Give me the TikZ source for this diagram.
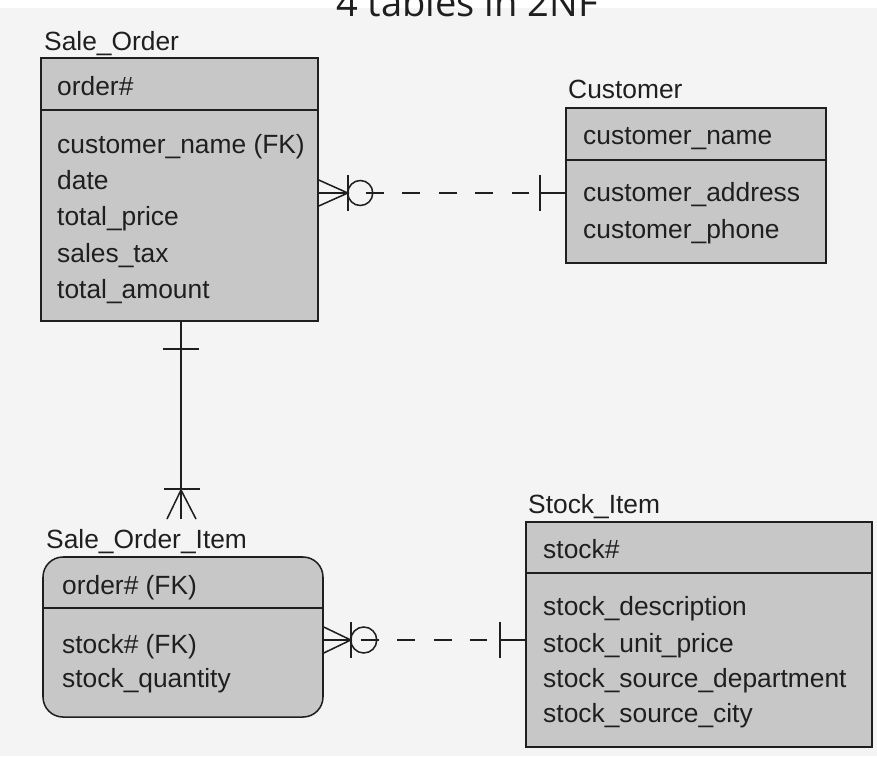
\documentclass[tikz,border=0pt]{standalone}
\usepackage{fontspec}
\setmainfont{Liberation Sans}
\newfontfamily\titlefont{Open Sans}
\usetikzlibrary{fit,calc}

\definecolor{boxgray}{gray}{0.78}
\definecolor{paper}{gray}{0.955}
\definecolor{ink}{gray}{0.12}

\tikzset{
  entity/.style={draw=ink, line width=1.3pt, fill=boxgray, inner sep=0pt},
  attr/.style={anchor=base west, inner sep=0pt, text=ink,
    font=\fontsize{22.5}{27}\selectfont},
  link/.style={draw=ink, line width=1.3pt},
  optline/.style={link, dash pattern=on 15.4pt off 15.8pt},
}

\begin{document}
\begin{tikzpicture}[x=0.03cm, y=-0.03cm]
  \useasboundingbox (0,0) rectangle (877,756);
  \clip (0,0) rectangle (877,756);
  \fill[paper] (0,0) rectangle (877,756);
  \fill[white] (0,0) rectangle (877,8);

  \node[anchor=base, inner sep=0pt, text=ink,
    font=\titlefont\fontsize{32.5}{38}\selectfont] (title) at (467,16) {4 tables in 2NF};

  % Sale_Order
  \node[attr] (so-name) at (44,50) {Sale\_Order};
  \node[entity, fit={(41,58) (318,321)}] (so) {};
  \draw[link] (so.west |- 0,110) -- (so.east |- 0,110);
  \node[attr] (so-key) at (57,95) {order\#};
  \foreach \txt/\yy [count=\i] in {customer\_name (FK)/153, date/189,
      total\_price/225, sales\_tax/262, total\_amount/298}
    \node[attr] (so-a\i) at (57,\yy) {\txt};

  % Customer
  \node[attr] (cu-name) at (568,98) {Customer};
  \node[entity, fit={(566,108) (826,263)}] (cu) {};
  \draw[link] (cu.west |- 0,160) -- (cu.east |- 0,160);
  \node[attr] (cu-key) at (583,144) {customer\_name};
  \foreach \txt/\yy [count=\i] in {customer\_address/201, customer\_phone/238}
    \node[attr] (cu-a\i) at (583,\yy) {\txt};

  % Sale_Order_Item
  \node[attr] (soi-name) at (46,548) {Sale\_Order\_Item};
  \node[entity, rounded corners=0.6cm, fit={(43,557) (323,717)}] (soi) {};
  \draw[link] (soi.west |- 0,608) -- (soi.east |- 0,608);
  \node[attr] (soi-key) at (62,594) {order\# (FK)};
  \foreach \txt/\yy [count=\i] in {stock\# (FK)/653, stock\_quantity/687}
    \node[attr] (soi-a\i) at (62,\yy) {\txt};

  % Stock_Item
  \node[attr] (st-name) at (528,513) {Stock\_Item};
  \node[entity, fit={(526,522) (872,747)}] (st) {};
  \draw[link] (st.west |- 0,573) -- (st.east |- 0,573);
  \node[attr] (st-key) at (543,558) {stock\#};
  \foreach \txt/\yy [count=\i] in {stock\_description/615, stock\_unit\_price/652,
      stock\_source\_department/687, stock\_source\_city/722}
    \node[attr] (st-a\i) at (543,\yy) {\txt};

  % Sale_Order >O- - -|- Customer
  \coordinate (c1a) at (so.east |- 0,193);
  \coordinate (c1b) at (cu.west |- 0,193);
  \draw[link] (c1a) -- ++(29,0) ++(-29,-13) -- ++(29,13) -- ++(-29,13);
  \draw[link] (c1a) ++(29,-18) -- ++(0,36);
  \draw[link] (c1a) ++(41.5,0) circle (0.375cm);
  \draw[optline] ($(c1a)+(47,0)$) -- ($(c1b)+(-36,0)$);
  \draw[link] (c1b) ++(-25,-18) -- ++(0,36);
  \draw[link] (c1b) ++(-25,0) -- (c1b);

  % Sale_Order -|- - - -< Sale_Order_Item
  \coordinate (c3a) at (so.south -| 181,0);
  \coordinate (c3b) at (181,519);
  \draw[link] (c3a) -- (c3b);
  \draw[link] (c3a) ++(-18,27) -- ++(36,0);
  \draw[link] (c3b) ++(-17,-30) -- ++(36,0);
  \draw[link] (c3b) ++(-14,0) -- ++(14,-29) -- ++(15,29);

  % Sale_Order_Item >O- - -|- Stock_Item
  \coordinate (c2a) at (soi.east |- 0,640);
  \coordinate (c2b) at (st.west |- 0,640);
  \draw[link] (c2a) -- ++(27,0) ++(-27,-13) -- ++(27,13) -- ++(-27,13);
  \draw[link] (c2a) ++(27,-18) -- ++(0,36);
  \draw[link] (c2a) ++(40,0) circle (0.39cm);
  \draw[optline] ($(c2a)+(37,0)$) -- ($(c2b)+(-38,0)$);
  \draw[link] (c2b) ++(-25,-18) -- ++(0,36);
  \draw[link] (c2b) ++(-25,0) -- (c2b);
\end{tikzpicture}
\end{document}
